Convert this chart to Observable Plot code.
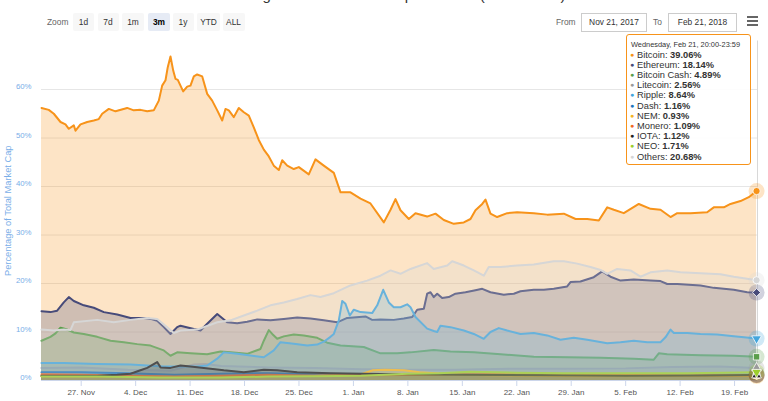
<!DOCTYPE html>
<html><head><meta charset="utf-8">
<script src="https://cdn.jsdelivr.net/npm/d3@7"></script>
<script src="https://cdn.jsdelivr.net/npm/@observablehq/plot@0.6"></script>
<style>
body{margin:0;background:#fff;font-family:"Liberation Sans",Arial,sans-serif;}
#wrap{position:relative;width:768px;height:401px;overflow:hidden;background:#fff;}
#chart{position:absolute;left:0;top:0;}
.abs{position:absolute;white-space:nowrap;}
.title{left:0;width:768px;text-align:center;top:-14px;font-size:15px;color:#333;line-height:18px;}
.lbl{font-size:8.4px;color:#666;line-height:18px;top:13px;}
.btn{top:13px;height:18px;line-height:18px;font-size:8.4px;color:#333;background:#f7f7f7;border-radius:2px;text-align:center;}
.btn.sel{background:#e6ebf5;font-weight:bold;color:#000;}
.inp{top:13px;height:17px;line-height:17px;border:1px solid #cccccc;font-size:8.4px;color:#333;text-align:center;background:#fff;}
.burger{left:747px;width:11px;height:2px;background:#666;}
#tip{position:absolute;left:626px;top:34px;width:119px;height:124.5px;border:1px solid #f7931a;border-radius:3px;background:rgba(255,255,255,0.92);padding:4.5px 0 0 4px;box-sizing:content-box;color:#333;}
#tip .row{display:block;height:10.2px;font-size:9.3px;line-height:10.2px;white-space:nowrap;overflow:visible;}
#tip .hdr{display:block;height:10.2px;font-size:7.4px;line-height:10.2px;white-space:nowrap;}
#tip .dot{display:inline-block;width:7px;height:10.2px;line-height:10.2px;font-size:7px;vertical-align:top;text-align:left;margin-left:-1px;}
</style></head>
<body><div id="wrap">
<div class="abs title">Percentage of Total Market Capitalization (Dominance)</div>
<div id="chart"></div>
<div id="controls"></div>
<div id="tip"></div>
</div>
<script>
// ---- data (day offsets from 27 Nov 2017 00:00 UTC, percentage of total market cap) ----
const bitcoin = [[-5.1,56.2],[-4.17,55.8],[-3.52,55.0],[-2.66,53.3],[-2.02,52.8],[-1.59,51.9],[-0.95,52.6],[-0.73,51.5],[-0.09,52.8],[0.77,53.3],[1.62,53.6],[2.26,53.9],[2.70,55.0],[3.55,56.0],[4.41,55.5],[5.91,56.2],[6.76,55.7],[7.62,55.8],[8.49,55.5],[9.33,55.7],[9.98,57.7],[10.41,60.8],[10.84,61.9],[11.13,64.6],[11.48,66.8],[11.83,63.9],[12.12,62.2],[12.42,62.0],[13.11,59.6],[13.63,60.6],[14.05,60.8],[14.48,62.7],[14.91,63.1],[15.56,62.7],[16.20,59.1],[16.84,57.7],[17.49,55.7],[18.13,53.6],[18.55,56.0],[18.98,55.7],[19.62,54.3],[20.26,56.2],[20.91,55.3],[21.55,54.6],[22.19,52.2],[22.83,49.6],[23.48,47.6],[24.12,46.2],[24.76,44.3],[25.41,43.4],[25.84,45.4],[26.49,44.3],[27.33,43.6],[27.98,44.0],[29.26,42.5],[30.12,45.6],[31.19,44.3],[32.48,42.8],[33.34,38.8],[34.62,38.8],[35.91,37.5],[37.19,36.5],[38.91,32.6],[39.77,35.2],[40.41,37.4],[41.05,35.1],[42.12,33.3],[42.98,34.5],[44.48,33.8],[45.55,34.4],[46.62,33.1],[47.90,32.3],[49.19,32.6],[50.05,33.3],[50.69,35.1],[51.56,36.4],[51.98,37.3],[52.62,34.4],[53.48,33.7],[54.77,34.5],[56.06,34.7],[58.19,34.5],[59.91,34.2],[62.05,34.4],[63.56,33.3],[65.06,33.3],[66.55,33.0],[67.63,35.7],[68.48,35.2],[69.76,34.5],[71.69,36.4],[73.20,35.4],[74.48,35.2],[75.77,33.7],[76.63,34.5],[78.34,34.5],[80.48,34.7],[81.33,35.7],[82.62,35.7],[83.48,36.4],[84.77,37.0],[85.83,37.8],[86.83,39.06]];
const ethereum = [[-5.1,14.3],[-3.95,14.1],[-3.09,14.4],[-2.24,16.1],[-1.59,17.2],[-0.95,16.4],[0.33,15.5],[1.62,15.0],[2.91,14.1],[4.63,13.6],[6.34,12.9],[8.05,12.9],[8.91,12.7],[9.77,12.3],[10.62,11.0],[11.48,9.6],[12.34,11.0],[12.77,11.3],[14.48,10.6],[15.34,10.3],[16.20,11.7],[17.49,13.7],[18.77,12.0],[20.06,11.8],[21.34,12.1],[22.63,12.6],[24.34,12.4],[26.05,12.7],[27.77,13.0],[29.48,12.8],[31.19,12.4],[32.91,12.0],[34.20,12.9],[36.55,13.2],[37.41,12.5],[38.48,12.6],[40.19,12.5],[41.48,12.8],[42.56,13.1],[43.20,14.6],[44.05,14.8],[44.48,17.9],[44.91,18.2],[45.33,17.2],[45.77,17.9],[46.41,17.0],[47.26,17.2],[48.12,17.9],[49.41,18.2],[50.69,18.6],[51.56,18.9],[52.62,18.2],[54.33,17.7],[55.62,17.9],[56.48,18.4],[58.19,18.7],[59.48,18.7],[60.76,18.9],[62.48,19.4],[62.91,20.3],[64.19,20.4],[65.90,21.3],[66.98,22.5],[68.05,21.4],[69.34,20.6],[71.05,20.8],[73.20,20.6],[74.48,20.5],[75.34,19.9],[76.63,19.9],[79.62,19.6],[81.33,19.1],[83.90,18.7],[85.63,18.2],[86.83,18.14]];
const bitcoinCash = [[-5.1,8.2],[-3.95,9.0],[-3.30,9.7],[-2.66,10.9],[-1.80,10.5],[-0.95,9.9],[0.33,9.6],[2.06,9.0],[3.77,8.2],[5.48,7.9],[7.20,7.5],[8.91,7.2],[10.62,6.2],[11.48,5.1],[12.34,5.8],[14.05,5.6],[16.20,5.4],[17.91,6.0],[19.20,5.8],[21.34,5.5],[23.05,6.5],[23.48,8.2],[24.12,10.4],[24.56,9.6],[25.20,8.6],[26.05,9.1],[27.33,9.5],[28.62,9.3],[30.34,8.8],[31.62,7.8],[33.34,7.2],[36.33,6.9],[38.48,5.6],[40.63,5.6],[42.34,5.8],[45.33,6.3],[47.48,6.0],[50.48,5.8],[53.91,5.4],[58.19,4.9],[62.48,4.8],[66.77,4.7],[71.05,4.5],[73.62,4.3],[74.26,5.6],[75.34,5.4],[79.62,5.2],[83.90,5.1],[86.83,4.89]];
const litecoin = [[-5.1,2.6],[0,2.7],[6,2.2],[11.5,2.0],[14.5,3.3],[16,3.4],[18,3.0],[24,2.7],[30,2.6],[36,2.3],[42,2.2],[48,2.2],[55,2.4],[62,2.4],[70,2.5],[76,2.8],[82,2.9],[86.83,2.56]];
const ripple = [[-5.1,3.6],[-2.24,3.6],[2.06,3.4],[6.34,3.3],[10.62,2.9],[14.91,2.9],[16.20,3.1],[17.49,4.5],[18.33,5.8],[20.06,5.5],[23.48,4.8],[24.76,6.2],[25.62,7.9],[27.33,7.6],[29.06,7.2],[30.34,7.4],[31.19,8.0],[32.05,9.0],[32.48,9.6],[33.12,12.4],[33.56,16.4],[33.98,15.8],[34.53,13.4],[35.05,14.6],[35.91,14.1],[37.41,13.9],[38.06,15.5],[38.83,18.7],[39.55,16.1],[40.19,15.1],[41.05,15.1],[41.91,15.7],[42.34,15.1],[42.98,13.1],[44.48,10.7],[45.33,10.2],[45.77,10.0],[46.19,11.3],[47.48,11.0],[49.19,10.3],[50.48,9.6],[51.76,8.6],[52.62,10.0],[53.69,10.8],[54.77,10.3],[56.48,9.6],[58.19,9.8],[59.91,9.3],[61.62,8.4],[63.33,8.8],[65.06,8.4],[67.63,7.7],[69.34,7.9],[71.05,8.2],[72.77,7.9],[74.48,7.9],[75.12,8.9],[75.77,10.5],[76.19,9.8],[77.91,9.8],[79.62,9.6],[81.77,9.5],[83.90,9.1],[86.83,8.64]];
const dash = [[-5.1,1.7],[0,1.7],[6,1.5],[12,1.2],[18,1.4],[24,1.5],[30,1.3],[38,1.2],[45,1.3],[52,1.2],[60,1.2],[68,1.3],[76,1.2],[86.83,1.16]];
const nem = [[-5.1,0.9],[0,0.85],[6,0.8],[12,0.7],[18,0.8],[24,0.9],[30,1.0],[36,1.3],[37.5,2.1],[39,2.2],[41.5,2.1],[43.5,1.7],[47.5,1.3],[52,1.1],[58,1.0],[65,0.9],[72,0.95],[80,0.95],[86.83,0.93]];
const monero = [[-5.1,1.3],[0,1.2],[6,1.0],[12,0.8],[18,1.0],[24,1.2],[30,1.0],[38,1.1],[45,1.2],[52,1.3],[60,1.3],[68,1.2],[76,1.1],[86.83,1.09]];
const iota = [[-5.1,1.0],[2.06,1.0],[4.63,1.2],[6.34,1.4],[7.62,2.1],[8.49,2.6],[9.77,3.8],[10.2,2.7],[11.48,2.6],[12.77,3.1],[14.05,2.9],[15.77,2.6],[18.33,2.1],[20.91,1.7],[23.48,2.2],[25.2,2.1],[27.77,1.7],[32.05,1.5],[36.33,1.4],[40.63,1.3],[49,1.2],[60,1.1],[70,1.0],[80,1.05],[86.83,1.12]];
const neo = [[-5.1,0.8],[2,0.8],[10,0.6],[18,0.6],[24,0.8],[30,0.9],[36,1.0],[42,1.4],[46,1.5],[50,1.8],[56,1.6],[62,1.5],[70,1.5],[78,1.5],[86.83,1.71]];
const others = [[-5.1,10.5],[-3.52,10.3],[-2.24,10.5],[-1.38,10.4],[-0.95,12.0],[2.06,12.5],[4.19,12.0],[6.34,12.5],[8.49,12.9],[9.77,12.7],[11.06,11.0],[11.91,9.8],[12.77,10.3],[14.91,10.5],[17.49,12.0],[19.20,12.4],[20.91,13.4],[22.63,14.4],[24.34,15.5],[26.05,16.1],[27.77,16.8],[29.48,17.6],[30.77,17.2],[32.48,18.0],[34.62,19.6],[36.77,20.6],[38.48,21.6],[39.77,22.7],[41.05,22.0],[42.34,23.0],[44.48,24.2],[45.33,23.0],[47.06,23.7],[47.70,24.6],[49.19,23.7],[50.48,22.7],[51.76,21.6],[52.40,23.4],[53.91,23.4],[56.06,23.7],[58.19,23.9],[60.76,24.6],[62.05,24.6],[63.77,24.1],[65.48,23.4],[66.77,22.8],[67.63,22.0],[68.91,23.0],[70.62,22.7],[71.91,21.4],[73.20,22.3],[75.34,22.7],[77.05,22.3],[79.62,22.1],[82.19,21.9],[83.90,21.4],[85.63,21.0],[86.83,20.68]];

const seriesNames = ["Bitcoin","Ethereum","Bitcoin Cash","Litecoin","Ripple","Dash","NEM","Monero","IOTA","NEO","Others"];
const seriesData = [bitcoin, ethereum, bitcoinCash, litecoin, ripple, dash, nem, monero, iota, neo, others];
const seriesColors = ["#f7931a","#474b7a","#5a9e4b","#9a9a9a","#43a6dd","#1c75bc","#f5b523","#f26822","#222222","#9dcf2c","#d6d6d6"];
const seriesSymbols = ["circle","diamond2","square","triangle","triangle","circle","diamond2","square","triangle","triangle","circle"];
const symbolRotate = [0,0,0,0,180,0,0,0,0,180,0];
const lastValues = ["39.06%","18.14%","4.89%","2.56%","8.64%","1.16%","0.93%","1.09%","1.12%","1.71%","20.68%"];
const tooltipHeader = "Wednesday, Feb 21, 20:00-23:59";
const xTicks = ["2017-11-27","2017-12-04","2017-12-11","2017-12-18","2017-12-25","2018-01-01","2018-01-08","2018-01-15","2018-01-22","2018-01-29","2018-02-05","2018-02-12","2018-02-19"];
const yTicks = [0,10,20,30,40,50,60];
const zoomButtons = ["1d","7d","1m","3m","1y","YTD","ALL"];
const zoomSelected = "3m";
const fromDate = "Nov 21, 2017", toDateText = "Feb 21, 2018";
const yTitle = "Percentage of Total Market Cap";

// ---- build ----
const T0 = Date.UTC(2017,10,27);
const DAY = 864e5;
const dayToDate = d => new Date(T0 + d*DAY);
const rows = seriesData.map((arr,i) => arr.map(([d,v]) => ({name: seriesNames[i], date: dayToDate(d), value: v})));
const lasts = rows.map((r,i) => ({...r[r.length-1], color: seriesColors[i], symbol: seriesSymbols[i], rot: symbolRotate[i]}));

const marks = [
  Plot.gridY(yTicks.filter(t=>t>0), {stroke:"#e6e6e6", strokeOpacity:1}),
];
rows.forEach((r,i) => {
  marks.push(Plot.areaY(r, {x:"date", y:"value", fill: seriesColors[i], fillOpacity: 0.25}));
  marks.push(Plot.lineY(r, {x:"date", y:"value", stroke: seriesColors[i], strokeWidth: 2}));
});
marks.push(
  Plot.ruleY([0], {stroke:"#ccd6eb"}),
  Plot.ruleX([dayToDate(86.95)], {stroke:"#d8d8d8", y1:0, y2:70}),
  Plot.dot(lasts, {x:"date", y:"value", r:8, fill: d=>d.color, fillOpacity:0.25, stroke:null}),
  Plot.dot(lasts, {x:"date", y:"value", r:3.6, fill: d=>d.color, symbol: d=>d.symbol, rotate: d=>d.rot, stroke:"#fff", strokeWidth:0.8}),
  Plot.axisX({ticks: xTicks.map(s=>new Date(s+"T00:00Z")), tickFormat: d3.utcFormat("%-d. %b"), tickSize:6, tickPadding:3, stroke:"#ccd6eb", fill:"#555", fontSize:8, label:null}),
  Plot.axisY({ticks: yTicks, tickFormat: d=>d+"%", tickSize:0, tickPadding:10, fill:"#79aee8", fontSize:7.8, dy:-3, label:null}),
  Plot.text([yTitle], {frameAnchor:"left", textAnchor:"middle", rotate:-90, dx:-33, fill:"#79aee8", fontSize:9.3})
);

const chart = Plot.plot({
  width:768, height:401,
  marginLeft:41, marginRight:11, marginTop:40.5, marginBottom:21,
  x:{type:"utc", domain:[dayToDate(-5.104), dayToDate(86.95)]},
  y:{domain:[0,70]},
  symbol:{type:"identity"},
  style:{fontFamily:"'Liberation Sans', Arial, sans-serif", fontSize:"8px", background:"transparent", overflow:"visible"},
  marks
});
document.getElementById("chart").appendChild(chart);

// ---- top controls ----
const controls = document.getElementById("controls");
function add(cls, text, style){ const e=document.createElement("div"); e.className="abs "+cls; if(text!=null) e.textContent=text; Object.assign(e.style, style); controls.appendChild(e); return e; }
add("lbl","Zoom",{left:"47px"});
const btnX = [73,97.5,122,148,172.5,197,222.5], btnW=[21,21,22,22,21,23,22];
zoomButtons.forEach((b,i)=> add("btn"+(b===zoomSelected?" sel":""), b, {left:btnX[i]+"px", width:btnW[i]+"px"}));
add("lbl","From",{left:"556px"});
add("inp",fromDate,{left:"581px", width:"64px"});
add("lbl","To",{left:"653px"});
add("inp",toDateText,{left:"668px", width:"67px"});
[17,21,25].forEach(y=>add("burger",null,{top:(y-1)+"px"}));

// ---- tooltip ----
const tip = document.getElementById("tip");
const h = document.createElement("div"); h.className="hdr"; h.textContent=tooltipHeader; tip.appendChild(h);
seriesNames.forEach((n,i)=>{
  const r=document.createElement("div"); r.className="row";
  const d=document.createElement("span"); d.className="dot"; d.style.color=seriesColors[i]; d.textContent="●";
  const t=document.createElement("span"); t.textContent=n+": ";
  const b=document.createElement("b"); b.textContent=lastValues[i];
  r.append(d,t,b); tip.appendChild(r);
});
</script>
</body></html>
